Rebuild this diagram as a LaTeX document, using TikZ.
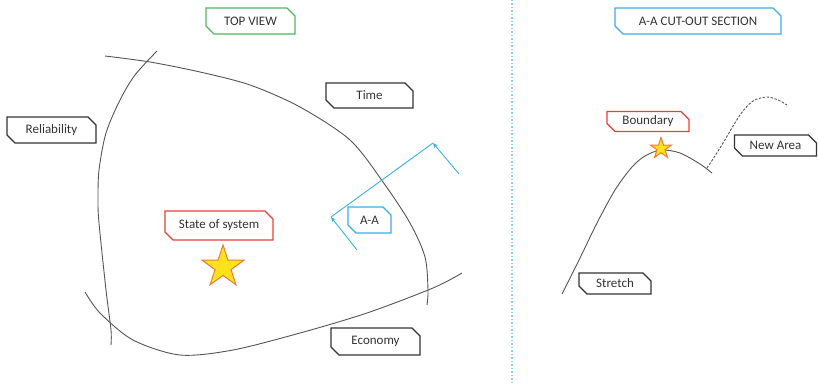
\documentclass[tikz,border=0pt]{standalone}
\usepackage{fontspec}
\setmainfont{Carlito}
\usetikzlibrary{shapes.misc,shapes.geometric,arrows.meta}
\definecolor{txt}{HTML}{333333}
\definecolor{curvec}{HTML}{555555}
\definecolor{bgreen}{HTML}{4CB860}
\definecolor{bred}{HTML}{E8403A}
\definecolor{bblue}{HTML}{3AAEE6}
\definecolor{starfill}{HTML}{FFE21A}
\definecolor{starline}{HTML}{F07A3A}
\tikzset{
  tag/.style={chamfered rectangle, chamfered rectangle corners={north east,south west},
    chamfered rectangle xsep=4pt, chamfered rectangle ysep=4pt,
    draw=txt, line width=1.3pt, fill=white, text=txt, inner sep=0pt,
    font=\fontsize{13}{15}\selectfont},
  curveline/.style={draw=curvec, line width=0.9pt},
  cutline/.style={draw=bblue, line width=0.9pt},
  bigstar/.style={star, star points=5, star point ratio=2.6, fill=starfill, draw=starline, line width=1pt, inner sep=0pt}
}
\begin{document}
\begin{tikzpicture}[x=1pt,y=-1pt]
\useasboundingbox (0,0) rectangle (818,385);
% separator
\draw[bblue!60, line width=1.5pt, dotted] (512,0) -- (512,385);
% curves (top view)
\draw[curveline] plot[smooth] coordinates {(157,51) (135,75) (120,100) (106,133) (99,170) (98,200) (99,223) (106,290) (111,330) (111,345)};
\draw[curveline] plot[smooth] coordinates {(105,56) (150,62) (200,72) (250,85) (300,107) (350,140) (383,182) (410,223) (425,257) (428,290) (427,305)};
\draw[curveline] plot[smooth] coordinates {(85,292) (100,313) (133,340) (180,355) (233,350) (300,333) (367,313) (433,288) (462,273)};
% A-A cut line
\coordinate (a1) at (357,250);
\coordinate (c1) at (331,217);
\coordinate (c2) at (433,143);
\coordinate (a2) at (459,174);
\draw[cutline, -{Stealth[length=5pt,width=4pt]}] (a1) -- (c1);
\draw[cutline] (c1) -- (c2);
\draw[cutline, -{Stealth[length=5pt,width=4pt]}] (a2) -- (c2);
% labels top view
\node[tag, draw=bgreen, minimum width=89pt, minimum height=26pt] (top) at (250.5,21) {TOP VIEW};
\node[tag, minimum width=87pt, minimum height=25pt] (time) at (369.5,95.5) {Time};
\node[tag, minimum width=89pt, minimum height=26pt] (rel) at (51.5,130) {Reliability};
\node[tag, draw=bred, minimum width=108pt, minimum height=29pt] (state) at (219,225.5) {State of system};
\node[tag, draw=bblue, minimum width=43pt, minimum height=26pt] (aa) at (369.5,220) {A-A};
\node[tag, minimum width=89pt, minimum height=27pt] (eco) at (375.5,341.5) {Economy};
\node[bigstar, minimum size=44pt] (star1) at (223,267) {};
% cut-out section
\draw[curveline] plot[smooth] coordinates {(562,294) (580,258) (597,223) (615,190) (632,167) (645,156) (661,150) (680,153) (700,164) (712,173)};
\draw[curveline, dashed, dash pattern=on 2.5pt off 1.5pt] plot[smooth] coordinates {(707,168) (720,148) (740,115) (753,101) (767,97) (778,100) (787,105)};
\node[tag, draw=bblue, minimum width=166pt, minimum height=26pt] (cut) at (698,21) {A-A CUT-OUT SECTION};
\node[tag, draw=bred, minimum width=82pt, minimum height=20pt] (bound) at (648,121.5) {Boundary};
\node[tag, minimum width=82pt, minimum height=21pt] (new) at (775.5,145.5) {New Area};
\node[tag, minimum width=72pt, minimum height=21pt] (stretch) at (615,283.5) {Stretch};
\node[bigstar, minimum size=22pt] (star2) at (661,148.5) {};
\end{tikzpicture}
\end{document}
